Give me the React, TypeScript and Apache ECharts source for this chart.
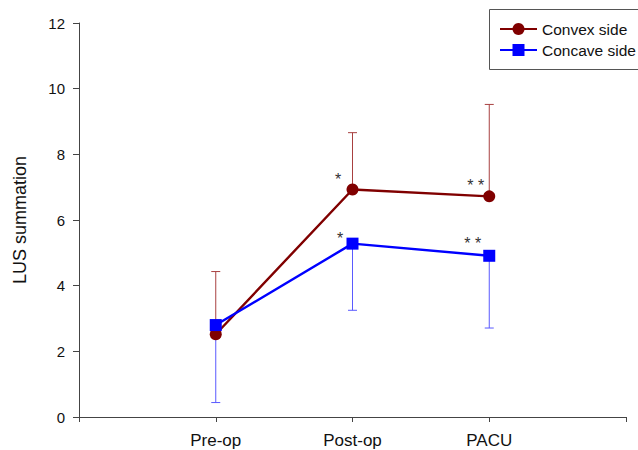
import React, { useEffect, useRef } from "react";
import * as echarts from "echarts";

const categories = ["Pre-op", "Post-op", "PACU"];
const xTickLabels = ["", "Pre-op", "Post-op", "PACU", ""];
const convexMean = [2.52, 6.93, 6.72];
const convexUpper = [4.43, 8.66, 9.52];
const concaveMean = [2.8, 5.28, 4.91];
const concaveLower = [0.44, 3.25, 2.71];
const convexMarks = ["", "*", "* *"];
const concaveMarks = ["", "*", "* *"];

const CONVEX = "#800000";
const CONCAVE = "#0000ff";

export default function App() {
  const ref = useRef<HTMLDivElement>(null);
  useEffect(() => {
    if (!ref.current) return;
    const chart = echarts.init(ref.current, undefined, { renderer: "svg" });
    const font = "Liberation Sans, Arial, sans-serif";

    const convexOffsets = [[0, 0], [-14.5, -10], [-13.5, -11]];
    const concaveOffsets = [[0, 0], [-12.5, -5], [-16.5, -12]];

    const mkData = (means: number[], marks: string[], offs: number[][]) =>
      means.map((v, i) => ({
        value: [i + 1, v],
        label: {
          show: marks[i] !== "",
          formatter: marks[i],
          position: "inside",
          offset: offs[i],
          color: "#333",
          fontSize: 16,
          fontFamily: font,
        },
      }));

    const errRender = (color: string) => (params: any, api: any) => {
      const x = api.value(0);
      const m = api.value(1);
      const e = api.value(2);
      const p0 = api.coord([x, m]);
      const p1 = api.coord([x, e]);
      return {
        type: "group",
        children: [
          { type: "line", shape: { x1: p0[0], y1: p0[1], x2: p1[0], y2: p1[1] }, style: { stroke: color, lineWidth: 1 } },
          { type: "line", shape: { x1: p1[0] - 4.5, y1: p1[1], x2: p1[0] + 4.5, y2: p1[1] }, style: { stroke: color, lineWidth: 1 } },
        ],
      };
    };

    chart.setOption({
      animation: false,
      backgroundColor: "#fff",
      textStyle: { fontFamily: font },
      grid: { left: 79, right: 12, top: 23, bottom: 33, containLabel: false },
      graphic: [
        {
          type: "rect",
          shape: { x: 489.5, y: 9.5, width: 170, height: 60 },
          style: { fill: "#fff", stroke: "#555", lineWidth: 1 },
          z: 0,
        },
      ],
      legend: {
        data: ["Convex side", "Concave side"],
        orient: "vertical",
        left: 489,
        top: 9,
        padding: [12, 4, 12, 10],
        itemWidth: 37,
        itemHeight: 15,
        itemGap: 5,
        borderWidth: 0,
        textStyle: { fontSize: 15.5, color: "#111", fontFamily: font },
      },
      xAxis: {
        type: "value",
        min: 0,
        max: 4,
        interval: 1,
        splitLine: { show: false },
        axisLine: { lineStyle: { color: "#444", width: 1 } },
        axisTick: { show: true, length: 5, lineStyle: { color: "#444" } },
        axisLabel: {
          margin: 15,
          fontSize: 17,
          color: "#111",
          fontFamily: font,
          formatter: (v: number) => xTickLabels[Math.round(v)] ?? "",
        },
      },
      yAxis: {
        type: "value",
        min: 0,
        max: 12,
        interval: 2,
        name: "LUS summation",
        nameLocation: "middle",
        nameGap: 50,
        nameTextStyle: { fontSize: 18, color: "#111", fontFamily: font },
        splitLine: { show: false },
        axisLine: { show: true, lineStyle: { color: "#444", width: 1 } },
        axisTick: { show: true, length: 6, lineStyle: { color: "#444" } },
        axisLabel: { margin: 14, fontSize: 15, color: "#111", fontFamily: font },
      },
      series: [
        {
          type: "custom",
          name: "convexErr",
          z: 1,
          renderItem: errRender("#a84040"),
          data: categories.map((_, i) => [i + 1, convexMean[i], convexUpper[i]]),
        },
        {
          type: "custom",
          name: "concaveErr",
          z: 1,
          renderItem: errRender("#5a5aff"),
          data: categories.map((_, i) => [i + 1, concaveMean[i], concaveLower[i]]),
        },
        {
          type: "line",
          name: "Convex side",
          z: 3,
          symbol: "circle",
          symbolSize: 12,
          lineStyle: { color: CONVEX, width: 2.4 },
          itemStyle: { color: CONVEX },
          data: mkData(convexMean, convexMarks, convexOffsets),
        },
        {
          type: "line",
          name: "Concave side",
          z: 4,
          symbol: "rect",
          symbolSize: 12,
          lineStyle: { color: CONCAVE, width: 2.4 },
          itemStyle: { color: CONCAVE },
          data: mkData(concaveMean, concaveMarks, concaveOffsets),
        },
      ],
    });
    return () => chart.dispose();
  }, []);
  return <div ref={ref} style={{ width: 638, height: 450, position: "absolute", left: 0, top: 0 }} />;
}
